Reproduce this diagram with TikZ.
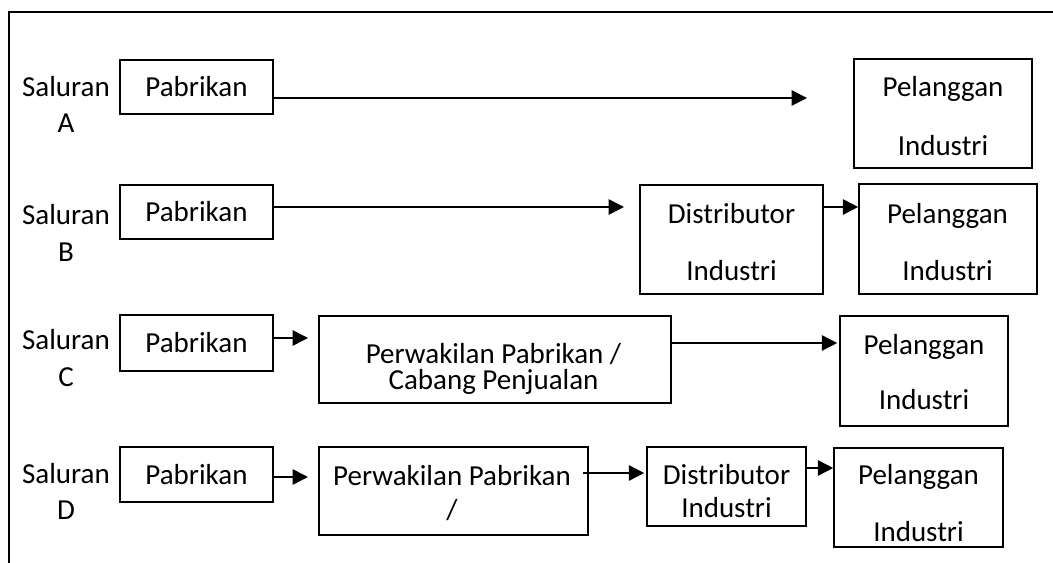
\documentclass[tikz,border=0pt]{standalone}
\usepackage{fontspec}
\setmainfont{Carlito}
\usetikzlibrary{arrows.meta}
\tikzset{
  bx/.style 2 args={draw, line width=1.2pt, minimum width=#1*0.75pt, minimum height=#2*0.75pt, inner sep=0pt, font=\fontsize{21.75}{26}\selectfont},
  txt/.style={inner sep=0pt, align=center, font=\fontsize{21.75pt}{#1pt}\selectfont},
  arr/.style={line width=1.2pt, -{Triangle[length=11.5pt, width=11.5pt]}},
  frame/.style={line width=1.3pt}
}
\begin{document}
\begin{tikzpicture}[x=0.75pt, y=-0.75pt]
\useasboundingbox (0,0) rectangle (1053,563);
% frame
\coordinate (f1) at (1060,12);
\coordinate (f2) at (9,12);
\coordinate (f3) at (9,570);
\draw[frame] (f1) -- (f2) -- (f3);

% labels
\node[txt=27] (sA) at (66,104) {Saluran\\A};
\node[txt=27.75] (sB) at (66,232.5) {Saluran\\B};
\node[txt=27.75] (sC) at (66,358) {Saluran\\C};
\node[txt=27] (sD) at (66,491) {Saluran\\D};

% row A
\node[bx={153}{54}] (pA) at (196.5,87) {Pabrikan};
\node[bx={178}{109}] (pelA) at (943,113.5) {};
\node[txt=43.7] (pelAt) at (943,116) {Pelanggan\\Industri};

% row B
\node[bx={153}{54}] (pB) at (196.5,212) {Pabrikan};
\node[bx={183}{109}] (dB) at (731.5,239.5) {};
\node[txt=42.5] (dBt) at (731.5,242.3) {Distributor\\Industri};
\node[bx={178}{110}] (pelB) at (948,239) {};
\node[txt=42.5] (pelBt) at (947.5,242.3) {Pelanggan\\Industri};

% row C
\node[bx={153}{56}] (pC) at (196.5,343) {Pabrikan};
\node[bx={352}{87}] (wC) at (495,359.5) {};
\node[txt=19.75] (wCt) at (493.5,369) {Perwakilan Pabrikan /\\Cabang Penjualan};
\node[bx={168}{110}] (pelC) at (924,371) {};
\node[txt=41.25] (pelCt) at (924,372.5) {Pelanggan\\Industri};

% row D
\node[bx={153}{55}] (pD) at (196.5,474.5) {Pabrikan};
\node[bx={269}{88}] (wD) at (453.5,491) {};
\node[txt=25.5] (wDt) at (452,493.5) {Perwakilan Pabrikan\\/};
\node[bx={159}{79}] (dD) at (726.5,486.5) {};
\node[txt=24.75] (dDt) at (726.5,491.5) {Distributor\\Industri};
\node[bx={169}{99}] (pelD) at (918.5,497.5) {};
\node[txt=42.5] (pelDt) at (918.5,503.3) {Pelanggan\\Industri};

% arrow levels / free ends
\coordinate (tA) at (807,98);
\coordinate (tB) at (624,207);
\coordinate (yB2) at (0,207);
\coordinate (tC) at (308,338);
\coordinate (yC2) at (0,343);
\coordinate (tD) at (308,477);
\coordinate (yD2a) at (583,473);
\coordinate (yD3) at (0,468);

\draw[arr] (pA.east |- tA) -- (tA);
\draw[arr] (pB.east |- tB) -- (tB);
\draw[arr] (dB.east |- yB2) -- (pelB.west |- yB2);
\draw[arr] (pC.east |- tC) -- (tC);
\draw[arr] (wC.east |- yC2) -- ([xshift=-1.5pt]pelC.west |- yC2);
\draw[arr] (pD.east |- tD) -- (tD);
\draw[arr] (yD2a) -- ([xshift=-1.5pt]dD.west |- yD2a);
\draw[arr] (dD.east |- yD3) -- (pelD.west |- yD3);
\end{tikzpicture}
\end{document}
